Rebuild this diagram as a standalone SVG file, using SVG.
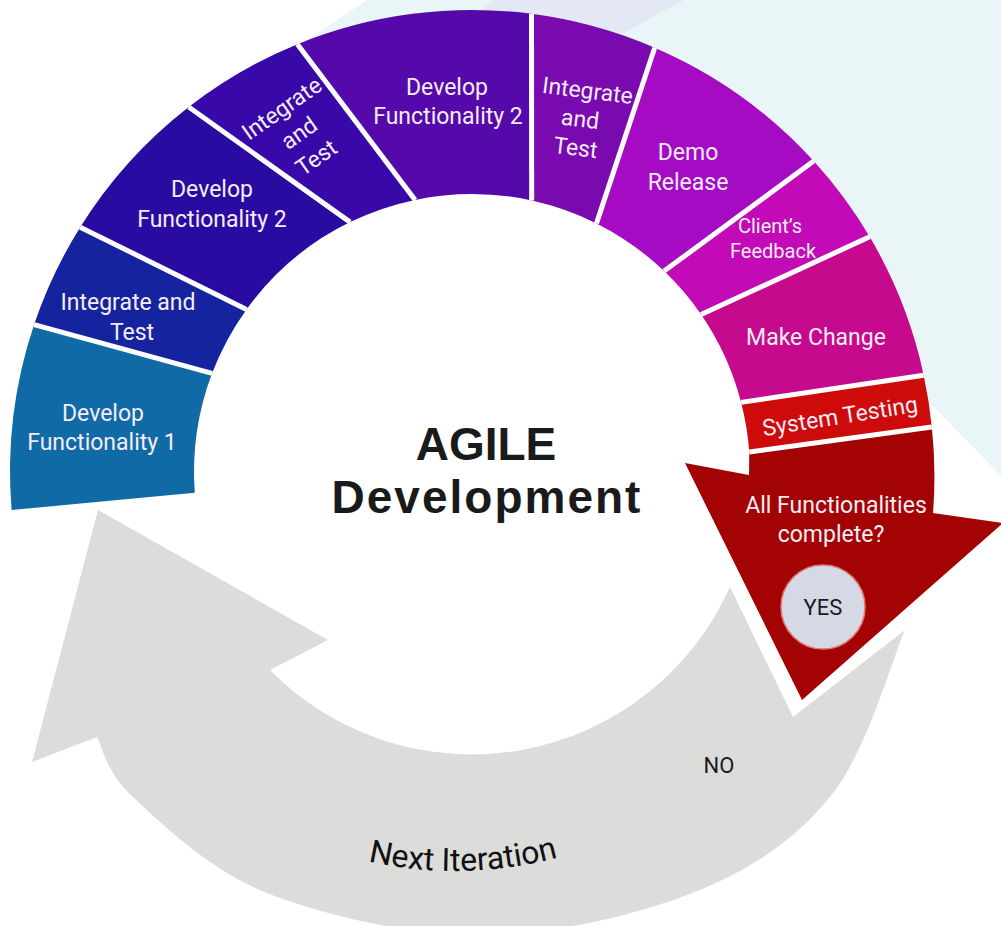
<svg xmlns="http://www.w3.org/2000/svg" width="1001" height="926" viewBox="0 0 1001 926">
<style>
.lbl{font-family:Roboto,"Liberation Sans",sans-serif;font-size:23px;fill:#f5ecf5;text-anchor:middle}
.sm{font-size:20px}
.sep{stroke:#ffffff;stroke-width:5;stroke-linecap:butt}
.title{font-family:"Liberation Sans",Arial,sans-serif;font-weight:bold;font-size:46px;fill:#1a1a1a;text-anchor:middle}
.dark{font-family:Roboto,"Liberation Sans",sans-serif;font-size:22px;fill:#1a1a22;text-anchor:middle}
</style>
<rect width="1001" height="926" fill="#ffffff"/>
<g id="background">
<polygon points="367,0 1001,0 1001,476 893,365 755,234 657,152 536,108 408,108 287,152 234,189 300,45" fill="#eaf5f8"/>
<polygon points="493,0 684,0 611,40 560,90 440,90 470,18" fill="#e4e8f5"/>
</g>
<g id="connectors">
<path id="next-iteration" d="M98,510 L328,640 L270,670 A283,283 0 0 0 730,587 L793,717 L905,630 C893,657 867,750 833,793 C799,836 758,866 700,890 C642,914 555,934.5 483,935 C411,935.5 325,916 267,893 C209,870 161,823 133,797 C105,771 103,747 97,737 L32,762 Z" fill="#dcdcda"/>
<path id="iterPath" d="M199.8,778.1 A397,397 0 0 0 710.2,778.1" fill="none"/>
<text font-family="Roboto,'Liberation Sans',sans-serif" font-size="32" fill="#111111" text-anchor="middle"><textPath href="#iterPath" startOffset="51.5%">Next Iteration</textPath></text>
<text class="dark" x="719" y="773">NO</text>
</g>
<g id="n1"><path d="M11.6,509.9 A462,462 0 0 1 34.1,324.6 L212.1,373.3 A278,278 0 0 0 194.8,492.8 Z" fill="#0f6aa6"/>
<text class="lbl" x="103" y="421">Develop</text><text class="lbl" x="102" y="450">Functionality 1</text></g>
<g id="n2"><path d="M34.1,324.6 A462,462 0 0 1 80.2,227.2 L246.5,309.4 A278,278 0 0 0 212.1,373.3 Z" fill="#15249e"/>
<text class="lbl" x="128" y="310">Integrate and</text><text class="lbl" x="132" y="340">Test</text></g>
<g id="n3"><path d="M80.2,227.2 A462,462 0 0 1 188.7,107 L350.1,222.1 A278,278 0 0 0 246.5,309.4 Z" fill="#2a0ba2"/>
<text class="lbl" x="212" y="197">Develop</text><text class="lbl" x="212" y="227">Functionality 2</text></g>
<g id="n4"><path d="M188.7,107 A462,462 0 0 1 297.4,44.2 L415.1,199.9 A278,278 0 0 0 350.1,222.1 Z" fill="#3809a8"/>
<g transform="translate(299,133) rotate(-35)"><text class="lbl" x="0" y="-22">Integrate</text><text class="lbl" x="0" y="8">and</text><text class="lbl" x="0" y="38">Test</text></g></g>
<g id="n5"><path d="M297.4,44.2 A462,462 0 0 1 531.5,13.8 L531.7,200.5 A278,278 0 0 0 415.1,199.9 Z" fill="#5509aa"/>
<text class="lbl" x="447" y="95">Develop</text><text class="lbl" x="448" y="124">Functionality 2</text></g>
<g id="n6"><path d="M531.5,13.8 A462,462 0 0 1 654.7,47.7 L596.5,223.4 A278,278 0 0 0 531.7,200.5 Z" fill="#790ab0"/>
<g transform="translate(582,120) rotate(7)"><text class="lbl" x="2" y="-22">Integrate</text><text class="lbl" x="-2" y="7">and</text><text class="lbl" x="-3" y="36">Test</text></g></g>
<g id="n7"><path d="M654.7,47.7 A462,462 0 0 1 813.7,161.1 L664.1,271.1 A278,278 0 0 0 596.5,223.4 Z" fill="#a60bc4"/>
<text class="lbl" x="688" y="160">Demo</text><text class="lbl" x="688" y="190">Release</text></g>
<g id="n8"><path d="M813.7,161.1 A462,462 0 0 1 869.7,236.8 L701.1,314.5 A278,278 0 0 0 664.1,271.1 Z" fill="#c20ab7"/>
<text class="lbl sm" x="770" y="233">Client’s</text><text class="lbl sm" x="773" y="258">Feedback</text></g>
<g id="n9"><path d="M869.7,236.8 A462,462 0 0 1 923.7,375.2 L741.1,402.4 A278,278 0 0 0 701.1,314.5 Z" fill="#c50a8e"/>
<text class="lbl" x="816" y="345">Make Change</text></g>
<g id="n10"><path d="M923.7,375.2 A462,462 0 0 1 931.8,426.9 L749.3,452.1 A278,278 0 0 0 741.1,402.4 Z" fill="#ce0b0b"/>
<g transform="translate(840,416) rotate(-9)"><text class="lbl" x="0" y="8">System Testing</text></g></g>
<g id="n11"><path d="M749.3,452.1 L931.8,426.9 A462,462 0 0 1 933,513 L1003,523 L802,700 L685,463 L749,475 Z" fill="#a30303"/>
<text class="lbl" x="836" y="513">All Functionalities</text><text class="lbl" x="831" y="542">complete?</text></g>
<g id="separators">
<line class="sep" x1="34.1" y1="324.6" x2="212.1" y2="373.3"/>
<line class="sep" x1="80.2" y1="227.2" x2="246.5" y2="309.4"/>
<line class="sep" x1="188.7" y1="107" x2="350.1" y2="222.1"/>
<line class="sep" x1="297.4" y1="44.2" x2="415.1" y2="199.9"/>
<line class="sep" x1="531.5" y1="13.8" x2="531.7" y2="200.5"/>
<line class="sep" x1="654.7" y1="47.7" x2="596.5" y2="223.4"/>
<line class="sep" x1="813.7" y1="161.1" x2="664.1" y2="271.1"/>
<line class="sep" x1="869.7" y1="236.8" x2="701.1" y2="314.5"/>
<line class="sep" x1="923.7" y1="375.2" x2="741.1" y2="402.4"/>
<line class="sep" x1="931.8" y1="426.9" x2="749.3" y2="452.1"/>
</g>
<g id="yes"><circle cx="823" cy="607" r="42" fill="#d5d9e6" stroke="#e07a7a" stroke-width="1.5"/>
<text class="dark" x="823" y="615">YES</text></g>
<g id="title"><text class="title" x="486" y="460">AGILE</text>
<text class="title" x="487" y="513" letter-spacing="2">Development</text></g>
</svg>
